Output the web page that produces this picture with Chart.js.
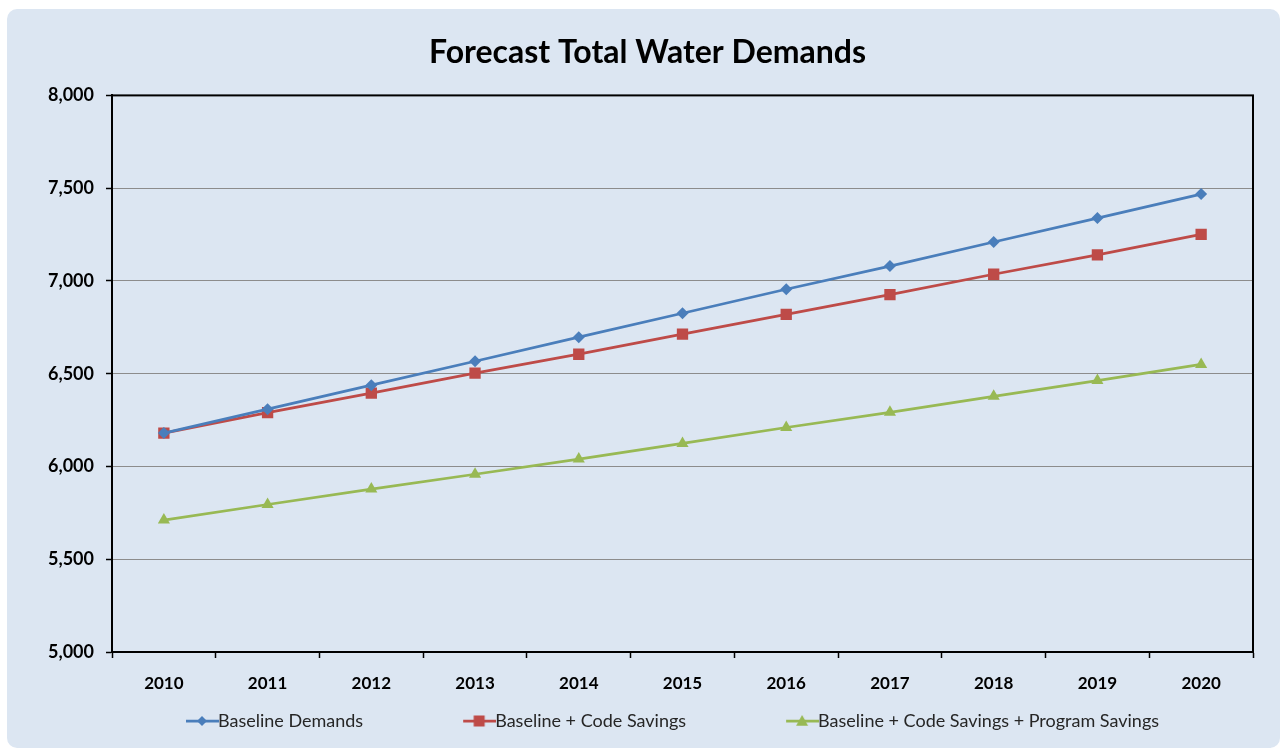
<!DOCTYPE html>
<html>
<head>
<meta charset="utf-8">
<title>Forecast Total Water Demands</title>
<script src="https://cdn.jsdelivr.net/npm/chart.js@4.4.1/dist/chart.umd.min.js"></script>
<style>
    body{
        margin:0;
        background:#ffffff;
        overflow:hidden;
    }
    .panel{
        position:absolute;
        left:7px;
        top:9px;
        width:1273px;
        height:739px;
        background:#dce6f2;
        border-radius:10px;
    }
</style>
</head>
<body>

<div class="panel">
    <canvas id="demandChart" width="1273" height="739"></canvas>
</div>

<script>
// ===============================
// DATA
// ===============================

const years = ["2010","2011","2012","2013","2014","2015","2016","2017","2018","2019","2020"];

const baselineDemands = [6180, 6309, 6438, 6567, 6697, 6826, 6955, 7080, 7210, 7339, 7468];

const codeSavings = [6180, 6290, 6395, 6503, 6605, 6713, 6820, 6926, 7036, 7140, 7251];

const programSavings = [5711, 5795, 5878, 5958, 6040, 6124, 6210, 6292, 6378, 6463, 6550];

const yTicks = [5000, 5500, 6000, 6500, 7000, 7500, 8000];

// ===============================
// COLORS
// ===============================

const blue = "#4a7ebb";
const red = "#be4b48";
const green = "#98b954";

// legend swatch: short line with the marker in the middle,
// sitting at the right end of a wider transparent image
function legendSwatch(color, style, radius){

    const c = document.createElement("canvas");
    c.width = 128;
    c.height = 14;

    const g = c.getContext("2d");

    g.strokeStyle = color;
    g.lineWidth = 2.75;
    g.beginPath();
    g.moveTo(95, 7);
    g.lineTo(128, 7);
    g.stroke();

    g.fillStyle = color;
    g.beginPath();

    const cx = 111, cy = 7;

    if(style === "diamond"){
        g.moveTo(cx, cy - radius);
        g.lineTo(cx + radius, cy);
        g.lineTo(cx, cy + radius);
        g.lineTo(cx - radius, cy);
    }
    else if(style === "square"){
        g.rect(cx - radius, cy - radius, radius * 2, radius * 2);
    }
    else{
        g.moveTo(cx, cy - radius);
        g.lineTo(cx + radius, cy + radius * 0.8);
        g.lineTo(cx - radius, cy + radius * 0.8);
    }

    g.closePath();
    g.fill();

    return c;
}

const swatches = [
    legendSwatch(blue, "diamond", 5),
    legendSwatch(red, "square", 5.5),
    legendSwatch(green, "triangle", 6)
];

// ===============================
// PLUGINS
// ===============================

// black frame round the plot area
const plotFrame = {

    id:"plotFrame",

    beforeDatasetsDraw(chart){

        const a = chart.chartArea;
        const ctx = chart.ctx;

        ctx.save();
        ctx.strokeStyle = "#000000";
        ctx.lineWidth = 2;
        ctx.strokeRect(a.left, a.top, a.right - a.left, a.bottom - a.top);
        ctx.restore();

    }

};

// title sits centred on the whole panel, not on the padded box
const titleCenter = {

    id:"titleCenter",

    afterLayout(chart){

        chart.titleBlock.left += 35;

    }

};

// ===============================
// CHART
// ===============================

const ctx = document
.getElementById("demandChart")
.getContext("2d");

const chart = new Chart(ctx,{

    type:"line",

    data:{

        labels:years,

        datasets:[
            {
                label:"Baseline Demands",
                data:baselineDemands,
                borderColor:blue,
                backgroundColor:blue,
                borderWidth:2.75,
                pointStyle:"rectRot",
                pointRadius:6,
                pointHoverRadius:6,
                pointBorderWidth:0,
                tension:0
            },
            {
                label:"Baseline + Code Savings",
                data:codeSavings,
                borderColor:red,
                backgroundColor:red,
                borderWidth:2.75,
                pointStyle:"rect",
                pointRadius:8,
                pointHoverRadius:8,
                pointBorderWidth:0,
                tension:0
            },
            {
                label:"Baseline + Code Savings + Program Savings",
                data:programSavings,
                borderColor:green,
                backgroundColor:green,
                borderWidth:2.75,
                pointStyle:"triangle",
                pointRadius:7,
                pointHoverRadius:7,
                pointBorderWidth:0,
                tension:0
            }
        ]

    },

    options:{

        responsive:false,

        animation:false,

        layout:{
            padding:{left:0, right:27, top:0, bottom:8}
        },

        plugins:{

            title:{
                display:true,
                text:"Forecast Total Water Demands",
                color:"#000000",
                font:{family:"Lato", size:32, weight:"bold"},
                padding:{top:24, bottom:24}
            },

            legend:{
                position:"bottom",
                labels:{
                    usePointStyle:true,
                    pointStyleWidth:108,
                    padding:15,
                    color:"#262626",
                    font:{family:"Lato", size:18},
                    generateLabels(chart){
                        return chart.data.datasets.map((ds, i) => ({
                            text:ds.label,
                            pointStyle:swatches[i],
                            fontColor:"#262626",
                            lineWidth:0,
                            datasetIndex:i
                        }));
                    }
                }
            },

            tooltip:{enabled:false}

        },

        scales:{

            x:{
                offset:true,
                afterFit(scale){
                    scale.height = 45;
                },
                grid:{
                    offset:true,
                    drawOnChartArea:false,
                    drawTicks:true,
                    tickLength:6,
                    tickColor:"#000000",
                    tickWidth:1.5
                },
                border:{color:"#000000", width:2},
                ticks:{
                    color:"#000000",
                    padding:15,
                    maxRotation:0,
                    font:{family:"Lato", size:17, weight:"bold"}
                }
            },

            y:{
                min:5000,
                max:8000,
                afterFit(scale){
                    scale.width = 105;
                },
                afterBuildTicks(scale){
                    scale.ticks = yTicks.map(v => ({value:v}));
                },
                grid:{
                    color:"#8c8c8c",
                    lineWidth:1,
                    tickLength:6,
                    tickColor:"#000000",
                    tickWidth:1.5
                },
                border:{color:"#000000", width:2},
                ticks:{
                    color:"#000000",
                    padding:12,
                    font:{family:"Lato", size:18, weight:"bold"},
                    callback(value){
                        return value.toLocaleString("en-US");
                    }
                }
            }

        }

    },

    plugins:[plotFrame, titleCenter]

});
</script>

</body>
</html>
